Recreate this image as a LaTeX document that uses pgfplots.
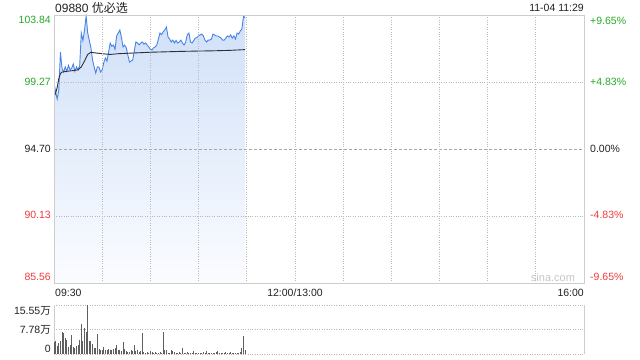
\documentclass[border=0pt]{standalone}
\usepackage{pgfplots}
\pgfplotsset{compat=1.18}
\usepackage{pgfplotstable}
\usepackage{fontspec}
\setmainfont{Liberation Sans}
\newfontfamily\cjk{Noto Sans CJK SC}
\definecolor{pline}{RGB}{72,132,232}
\definecolor{avgline}{RGB}{45,48,60}
\definecolor{up}{RGB}{40,170,40}
\definecolor{down}{RGB}{240,60,60}
\definecolor{frame}{RGB}{205,205,205}
\definecolor{gridc}{RGB}{185,185,185}
\definecolor{txt}{RGB}{35,35,35}
\definecolor{vol}{RGB}{95,95,95}
\definecolor{filltop}{RGB}{208,224,248}
\definecolor{fillbot}{RGB}{251,252,255}

\pgfplotstableread{
m p
0 99.20
1 98.60
2 98.11
3 98.72
4 101.30
5 100.20
6 99.95
7 100.30
8 100.00
9 100.40
10 100.10
11 100.20
12 100.50
13 100.00
14 100.30
15 100.10
16 100.40
17 102.60
18 102.10
19 102.80
20 103.77
21 102.60
22 102.10
23 101.60
24 100.77
25 100.30
26 99.88
27 100.30
28 100.29
29 99.95
30 100.10
31 100.60
32 100.91
33 100.70
34 101.30
35 101.93
36 101.70
37 101.79
38 101.50
39 102.40
40 102.61
41 102.82
42 102.30
43 101.66
44 101.79
45 101.60
46 101.10
47 100.63
48 100.70
49 100.77
50 101.40
51 102.00
52 101.93
53 101.80
54 101.93
55 102.00
56 101.85
57 101.93
58 101.79
59 101.66
60 101.50
61 101.45
62 101.60
63 101.66
64 101.80
65 102.20
66 102.61
67 102.50
68 102.70
69 102.82
70 103.02
71 102.34
72 102.20
73 102.00
74 102.13
75 101.93
76 102.10
77 101.93
78 102.00
79 102.13
80 101.93
81 101.79
82 102.00
83 102.50
84 102.61
85 102.00
86 101.93
87 102.10
88 102.27
89 102.30
90 102.41
91 102.48
92 102.54
93 102.41
94 102.13
95 102.00
96 102.13
97 102.13
98 102.20
99 102.54
100 102.48
101 102.41
102 102.41
103 102.34
104 102.27
105 102.13
106 102.13
107 102.27
108 102.41
109 102.34
110 102.48
111 102.27
112 102.41
113 102.20
114 102.61
115 102.54
116 102.75
117 102.90
118 103.77
119 103.64
}\pricetable

\pgfplotstableread{
m a
0 98.25
1 98.50
2 98.90
3 99.50
4 99.85
5 99.95
8 100.00
12 100.05
15 100.10
17 100.30
19 100.70
21 101.15
23 101.30
26 101.25
30 101.20
35 101.15
40 101.20
50 101.25
60 101.30
70 101.33
80 101.36
90 101.38
100 101.40
110 101.43
119 101.48
}\avgtable

\pgfplotstableread{
m v
0 3.9
1 4.0
2 2.5
3 3.5
4 4.0
5 7.0
6 6.6
7 5.0
8 4.4
9 2.3
10 3.0
11 5.9
12 2.3
13 1.9
14 2.5
15 3.0
16 4.4
17 9.5
18 4.0
19 8.2
20 7.0
21 15.55
22 4.0
23 4.0
24 3.3
25 2.0
26 1.8
27 6.3
28 1.7
29 1.4
30 1.2
31 2.3
32 1.3
33 1.2
34 1.6
35 1.4
36 1.3
37 1.5
38 2.0
39 3.0
40 1.2
41 1.3
42 1.0
43 3.9
44 1.5
45 1.1
46 0.7
47 0.6
48 1.3
49 1.0
50 2.8
51 1.1
52 1.3
53 0.5
54 0.8
55 6.6
56 0.6
57 0.4
58 0.6
59 0.3
60 0.8
61 0.5
62 0.4
63 0.6
64 0.4
65 0.3
66 0.5
67 0.4
68 7.0
69 1.3
70 1.2
71 0.3
72 0.4
73 1.3
74 1.0
75 0.5
76 0.3
77 0.3
78 0.6
79 0.4
80 2.0
81 0.4
82 0.3
83 0.5
84 0.2
85 0.4
86 0.3
87 0.8
88 0.4
89 0.3
90 0.2
91 0.4
92 0.3
93 0.5
94 0.3
95 0.9
96 0.4
97 0.3
98 0.2
99 0.4
100 0.3
101 0.6
102 1.0
103 0.3
104 0.4
105 0.2
106 0.3
107 0.5
108 0.3
109 0.4
110 0.6
111 0.3
112 0.2
113 0.3
114 0.4
115 0.3
116 0.5
117 2.0
118 5.8
119 1.3
}\voltable

\begin{document}
\fontsize{10.5bp}{12bp}\selectfont
\begin{tikzpicture}
\path[use as bounding box, fill=white] (0bp,0bp) rectangle (640bp,360bp);

% price panel
\begin{axis}[
  at={(54bp,77bp)}, anchor=south west,
  width=530bp, height=268bp, scale only axis,
  xmin=0, xmax=330, ymin=85.56, ymax=103.84,
  xtick={30,60,...,300}, ytick={90.13,99.27},
  xticklabels={}, yticklabels={},
  major tick length=0pt,
  grid=major,
  major grid style={gridc, dotted, line width=0.7bp},
  axis line style={frame, line width=0.9bp},
  axis on top=true,
]
\addplot[draw=none, top color=filltop, bottom color=fillbot] table[x=m,y=p]{\pricetable} \closedcycle;
\draw[gridc!90!black, dash pattern=on 3bp off 2bp, line width=0.7bp] (axis cs:0,94.70) -- (axis cs:330,94.70);
\addplot[pline, line width=0.9bp] table[x=m,y=p]{\pricetable};
\addplot[avgline, line width=0.9bp] table[x=m,y=a]{\avgtable};
\end{axis}

% volume panel
\begin{axis}[
  at={(54bp,6bp)}, anchor=south west,
  width=530bp, height=49bp, scale only axis,
  xmin=0, xmax=330, ymin=0, ymax=15.55,
  xtick=\empty, ytick={0,7.78,15.55},
  yticklabels={}, major tick length=0pt,
  ymajorgrids,
  major grid style={gridc, dotted, line width=0.9bp},
  axis line style={draw=none},
  clip=false,
]
\draw[frame, line width=0.9bp] (rel axis cs:0,0) -- (rel axis cs:0,1);
\draw[frame, line width=0.9bp] (rel axis cs:1,0) -- (rel axis cs:1,1);
\addplot[ycomb, vol, line width=0.9bp] table[x=m,y=v]{\voltable};
\end{axis}

% title and date
\node[anchor=west, text=txt, font=\fontsize{12bp}{14bp}\selectfont, inner sep=0pt] at (55bp,352bp) {09880 {\cjk 优必选}};
\node[anchor=east, text=txt, inner sep=0pt] at (584bp,352bp) {11-04 11:29};

% left price labels
\node[anchor=east, text=up, inner sep=0pt] at (51bp,340bp) {103.84};
\node[anchor=east, text=up, inner sep=0pt] at (51bp,278bp) {99.27};
\node[anchor=east, text=txt, inner sep=0pt] at (51bp,211bp) {94.70};
\node[anchor=east, text=down, inner sep=0pt] at (51bp,145bp) {90.13};
\node[anchor=east, text=down, inner sep=0pt] at (51bp,83bp) {85.56};

% right percent labels
\node[anchor=west, text=up, inner sep=0pt] at (590bp,339bp) {+9.65\%};
\node[anchor=west, text=up, inner sep=0pt] at (590bp,278bp) {+4.83\%};
\node[anchor=west, text=txt, inner sep=0pt] at (590bp,211bp) {0.00\%};
\node[anchor=west, text=down, inner sep=0pt] at (590bp,145bp) {-4.83\%};
\node[anchor=west, text=down, inner sep=0pt] at (590bp,83bp) {-9.65\%};

% time labels
\node[anchor=west, text=txt, inner sep=0pt] at (55bp,67bp) {09:30};
\node[text=txt, inner sep=0pt] at (295bp,67bp) {12:00/13:00};
\node[anchor=east, text=txt, inner sep=0pt] at (584bp,67bp) {16:00};

% watermark
\node[text=gray!45, inner sep=0pt, font=\fontsize{11bp}{13bp}\selectfont] at (553bp,82bp) {sina.com};

% volume labels
\node[anchor=east, text=txt, inner sep=0pt] at (51bp,49bp) {15.55{\cjk 万}};
\node[anchor=east, text=txt, inner sep=0pt] at (51bp,30bp) {7.78{\cjk 万}};
\node[anchor=east, text=txt, inner sep=0pt] at (51bp,11bp) {0};
\end{tikzpicture}
\end{document}
